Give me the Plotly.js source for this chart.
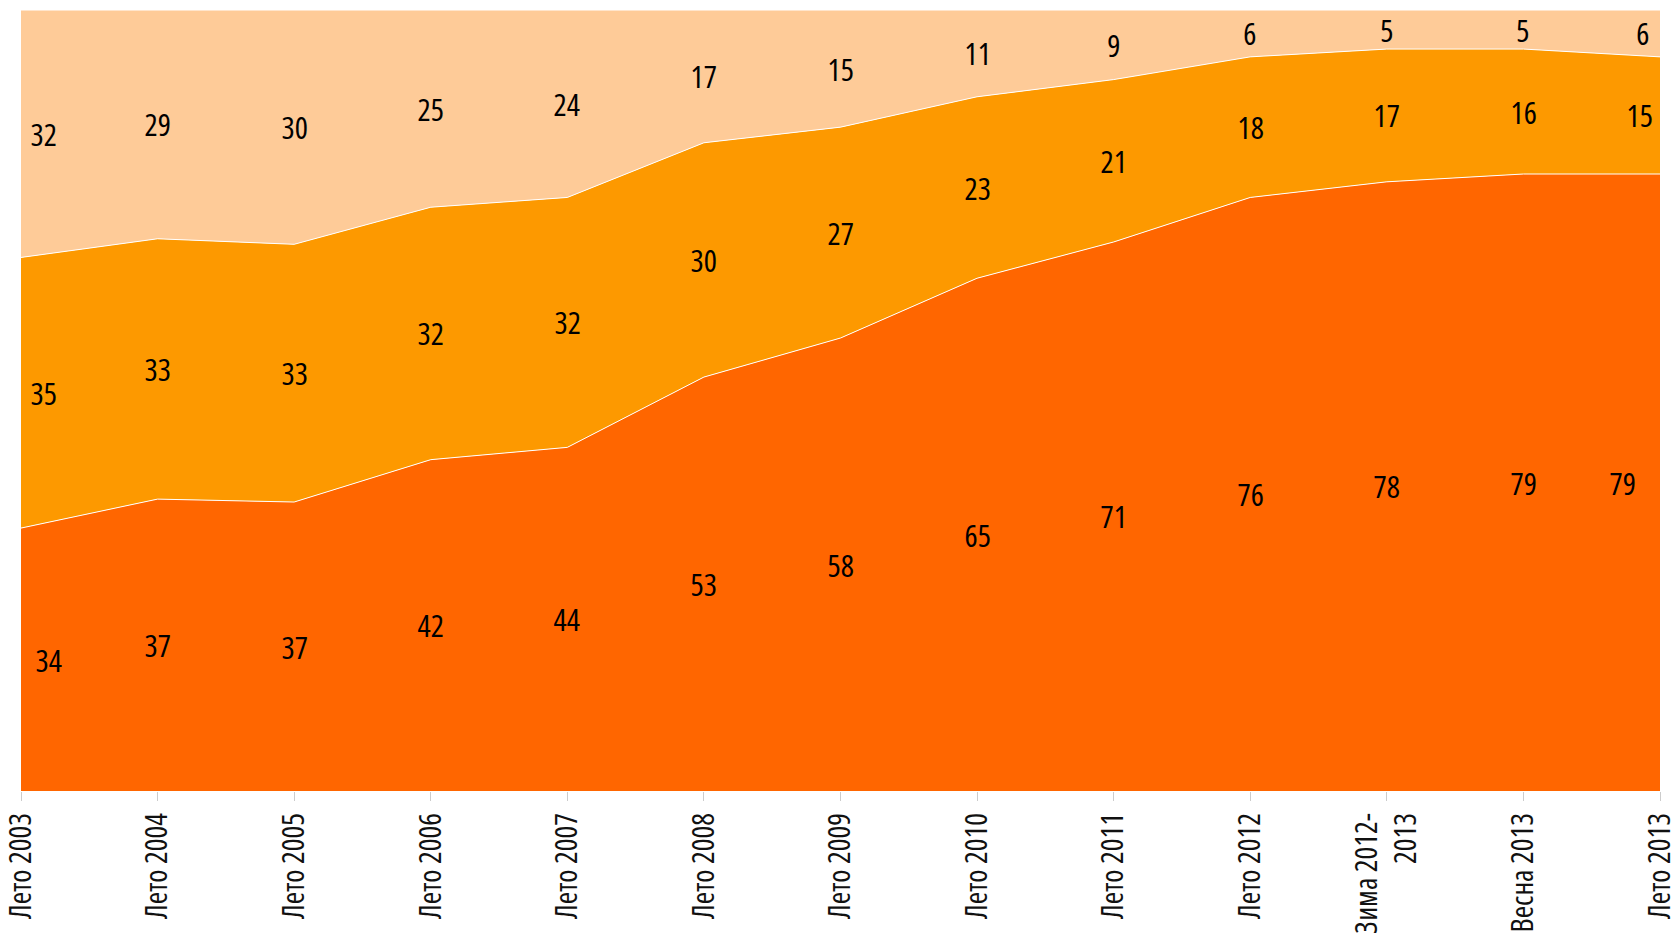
<!DOCTYPE html>
<html>
<head>
<meta charset="utf-8">
<script src="https://cdn.plot.ly/plotly-3.0.1.min.js"></script>
<style>html,body{margin:0;padding:0;background:#fff;}#chart{width:1675px;height:936px;}
#chart text{font-stretch:condensed !important;}</style>
</head>
<body>
<div id="chart"></div>
<script>
const categories = ["Лето 2003","Лето 2004","Лето 2005","Лето 2006","Лето 2007","Лето 2008","Лето 2009","Лето 2010","Лето 2011","Лето 2012","Зима 2012-<br>2013","Весна 2013","Лето 2013"];
const bottomValues = [34,37,37,42,44,53,58,65,71,76,78,79,79];
const middleValues = [35,33,33,32,32,30,27,23,21,18,17,16,15];
const topValues    = [32,29,30,25,24,17,15,11,9,6,5,5,6];

const series = [
  {vals: bottomValues, color: '#FF6600'},
  {vals: middleValues, color: '#FD9900'},
  {vals: topValues, color: '#FECB98'}
];

const FONT = '"Open Sans", sans-serif';
const xIdx = categories.map((c,i)=>i);
const traces = series.map(s => ({
  type: 'scatter', mode: 'lines', x: xIdx, y: s.vals,
  stackgroup: 'one', groupnorm: 'percent',
  line: {color: '#ffffff', width: 1},
  fillcolor: s.color, hoverinfo: 'skip'
}));

const annotations = [];
xIdx.forEach(i => {
  const tot = bottomValues[i] + middleValues[i] + topValues[i];
  let base = 0;
  series.forEach((s, k) => {
    const v = s.vals[i] / tot * 100;
    const mid = base + v / 2;
    base += v;
    let xanchor = 'center', xshift = 0;
    if (i === 0) { xanchor = 'left'; xshift = (k === 0 ? 8 : 3); }
    if (i === xIdx.length - 1) { xanchor = 'right'; xshift = (k === 0 ? -18 : (k === 2 ? -6 : -1)); }
    annotations.push({
      x: i, y: mid, xref: 'x', yref: 'y', text: String(s.vals[i]),
      showarrow: false, xanchor: xanchor, yanchor: 'middle', xshift: xshift,
      font: {family: FONT, size: 31, color: '#000'}
    });
  });
});

const layout = {
  width: 1675, height: 936,
  margin: {l: 21, r: 15, t: 10, b: 145},
  paper_bgcolor: '#fff', plot_bgcolor: '#fff',
  showlegend: false,
  xaxis: {
    range: [0, xIdx.length - 1], tickmode: 'array', tickvals: xIdx, ticktext: categories,
    tickangle: -90, ticks: 'outside', ticklen: 9, tickcolor: '#cccccc', tickwidth: 1,
    ticklabeloverflow: 'allow', ticklabelstandoff: 0,
    showgrid: false, zeroline: false, showline: false,
    tickfont: {family: FONT, size: 30, color: '#111'}
  },
  yaxis: {range: [0, 100], visible: false, showgrid: false, zeroline: false, fixedrange: true},
  annotations: annotations
};

Plotly.newPlot('chart', traces, layout, {displayModeBar: false, staticPlot: true});
</script>
</body>
</html>
